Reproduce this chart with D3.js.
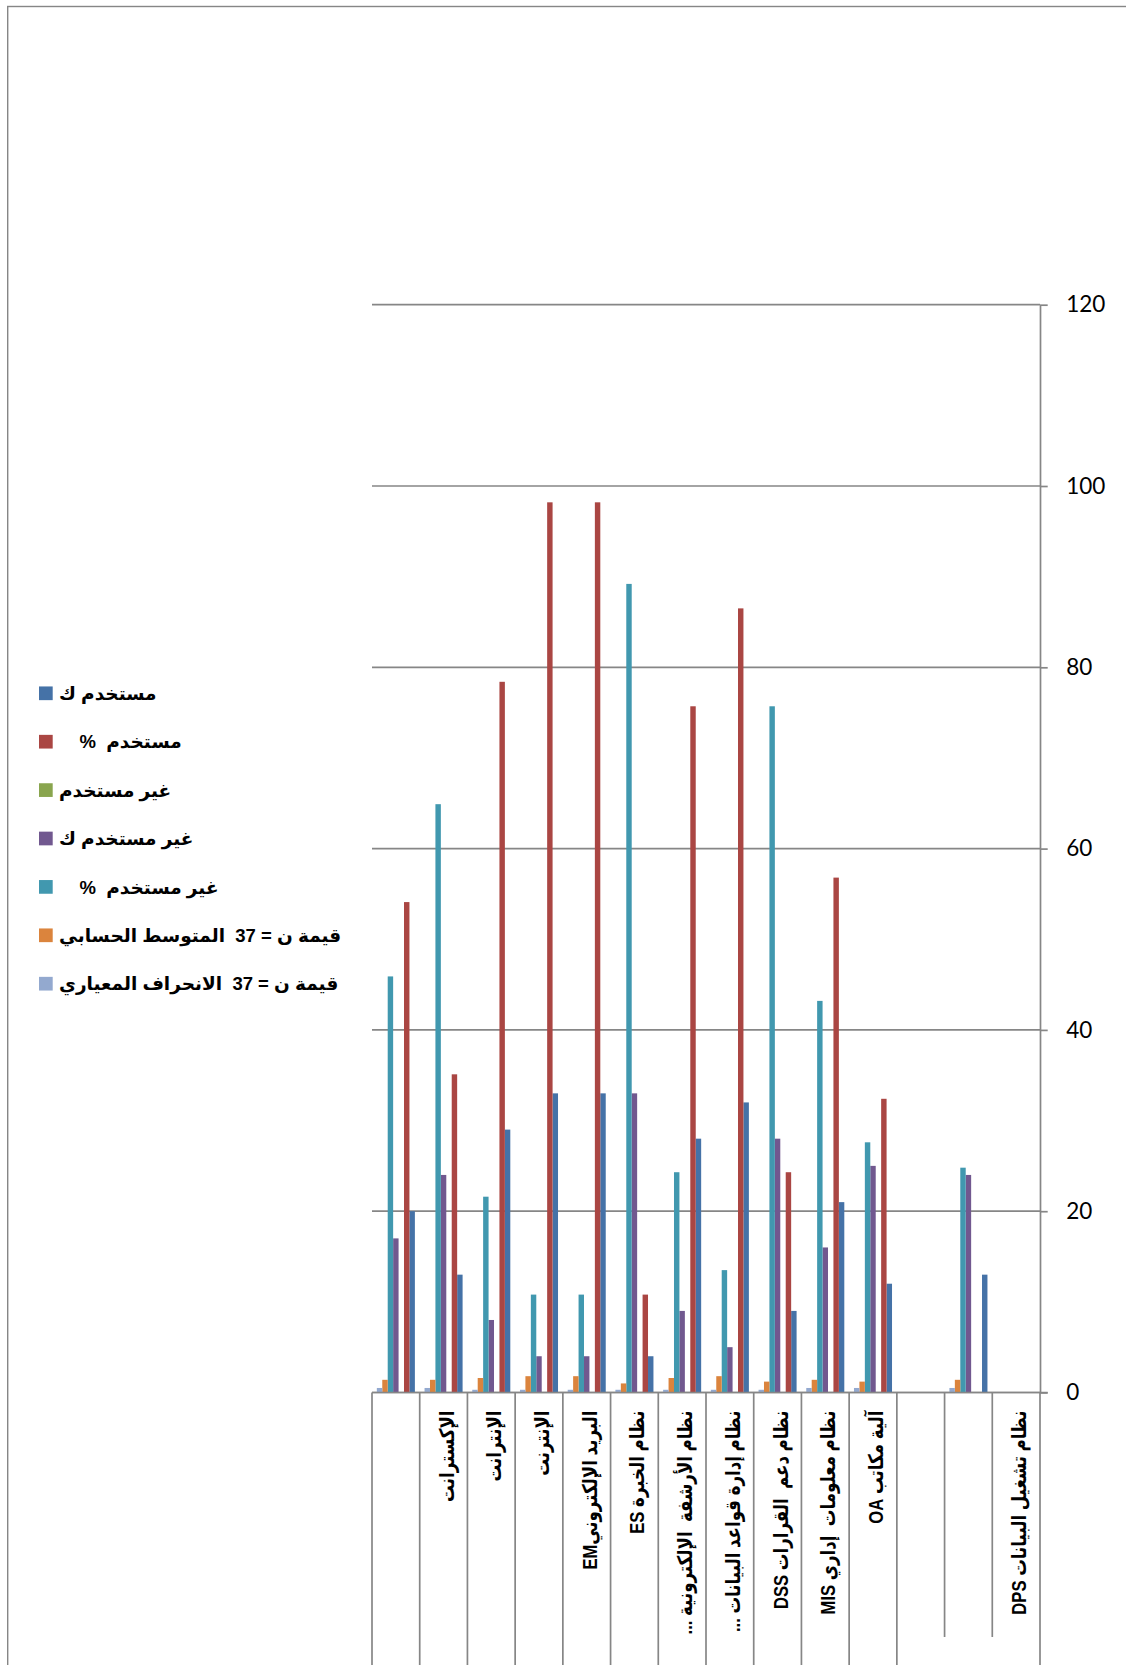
<!DOCTYPE html>
<html>
<head>
<meta charset="utf-8">
<script src="https://cdn.jsdelivr.net/npm/d3@7"></script>
<style>
  html, body { margin: 0; padding: 0; background: #ffffff; }
  svg { display: block; }
  text { white-space: pre; }
</style>
</head>
<body>
<svg id="chart" width="1126" height="1665"></svg>
<script>
// Categories in sheet order (the first one is drawn at the right, axis runs right-to-left)
const categories = [
  "نظام تشغيل البيانات DPS",
  "",
  "",
  "آلية مكاتب OA",
  "نظام معلومات  إداري MIS",
  "نظام دعم  القرارات DSS",
  "نظام إدارة قواعد البيانات ...",
  "نظام الأرشفة  الإلكترونية ...",
  "نظام الخبرة ES",
  "البريد الإلكترونيEM",
  "الإنترنت",
  "الإنترانت",
  "الإكسترانت",
  ""
];
// Outer (second) level of the category axis: categories sharing a key share one outer cell
const outerGroups = [0, 0, 0, 1, 2, 3, 4, 5, 6, 7, 8, 9, 10, 11];

const seriesNames = [
  "مستخدم ك",
  "مستخدم  %    ",
  "غير مستخدم",
  "غير مستخدم ك",
  "غير مستخدم  %    ",
  "قيمة ن = 37  المتوسط الحسابي",
  "قيمة ن = 37  الانحراف المعياري"
];
const seriesColors = ["#4572A7", "#AA4643", "#89A54E", "#71588F", "#4198AF", "#DB843D", "#93A9CF"];

const usedCount     = [null, 13,   null, 12,   21,   9,    32,   28,   4,    33,   33,   29,   13,   20];
const usedPct       = [null, 0,    null, 32.4, 56.8, 24.3, 86.5, 75.7, 10.8, 98.2, 98.2, 78.4, 35.1, 54.1];
const notUsed       = [null, null, null, null, null, null, null, null, null, null, null, null, null, null];
const notUsedCount  = [null, 24,   null, 25,   16,   28,   5,    9,    33,   4,    4,    8,    24,   17];
const notUsedPct    = [null, 24.8, null, 27.6, 43.2, 75.7, 13.5, 24.3, 89.2, 10.8, 10.8, 21.6, 64.9, 45.9];
const meanValues    = [null, 1.4,  null, 1.2,  1.4,  1.2,  1.8,  1.6,  1.0,  1.8,  1.8,  1.6,  1.4,  1.4];
const stdDevValues  = [null, 0.5,  null, 0.5,  0.5,  0.3,  0.3,  0.3,  0.3,  0.3,  0.3,  0.3,  0.5,  0.5];

const valueTicks = [0, 20, 40, 60, 80, 100, 120];

const seriesValues = [usedCount, usedPct, notUsed, notUsedCount, notUsedPct, meanValues, stdDevValues];
const series = seriesNames.map((name, i) => ({ key: i, name, color: seriesColors[i], values: seriesValues[i] }));

// ---- layout ----
const GRID = "#868686";
const plot = { left: 372, right: 1040, top: 304.7, bottom: 1392.5 };
const labelAreaBottom = 1637;
const svg = d3.select("#chart");

// Chart-area frame
svg.append("rect")
  .attr("x", 7.7).attr("y", 6.5)
  .attr("width", 1300).attr("height", 1900)
  .attr("fill", "none").attr("stroke", GRID).attr("stroke-width", 1.4);

// Scales
const x0 = d3.scaleBand()
  .domain(d3.range(categories.length))
  .range([plot.right, plot.left])
  .paddingInner(0).paddingOuter(0);

const x1 = d3.scaleBand()
  .domain(series.map(s => s.key))
  .range([x0.bandwidth(), 0])
  .paddingInner(0).paddingOuter(0.89);

const y = d3.scaleLinear()
  .domain([0, 120])
  .range([plot.bottom, plot.top]);

// Horizontal gridlines
svg.append("g")
  .selectAll("line")
  .data(valueTicks)
  .join("line")
  .attr("x1", plot.left).attr("x2", plot.right)
  .attr("y1", d => y(d)).attr("y2", d => y(d))
  .attr("stroke", GRID).attr("stroke-width", 1.7);

// Bars
const groups = svg.append("g")
  .selectAll("g")
  .data(d3.range(categories.length))
  .join("g")
  .attr("transform", i => `translate(${x0(i)},0)`);

groups.selectAll("rect")
  .data(i => series.map(s => ({ key: s.key, color: s.color, value: s.values[i] })))
  .join("rect")
  .filter(d => d.value != null && d.value > 0)
  .attr("x", d => x1(d.key))
  .attr("width", x1.bandwidth())
  .attr("y", d => y(d.value))
  .attr("height", d => y(0) - y(d.value))
  .attr("fill", d => d.color);

// Category axis: base line and dividers between category cells
svg.append("line")
  .attr("x1", plot.left).attr("x2", plot.right + 7.7)
  .attr("y1", y(0)).attr("y2", y(0))
  .attr("stroke", GRID).attr("stroke-width", 1.7);

const n = categories.length;
const boundaries = d3.range(n + 1).map(k => {
  // k = 0 is the right end, k = n is the left end
  const xPos = k === n ? x0(n - 1) : x0(k) + x0.bandwidth();
  const full = k === 0 || k === n || outerGroups[k - 1] !== outerGroups[k];
  return { xPos, full };
});

svg.append("g")
  .selectAll("line")
  .data(boundaries)
  .join("line")
  .attr("x1", d => d.xPos).attr("x2", d => d.xPos)
  .attr("y1", y(0))
  .attr("y2", d => d.full ? 1700 : labelAreaBottom)
  .attr("stroke", GRID).attr("stroke-width", 1.7);

// Category labels, rotated, reading from top to bottom (slightly narrow, tall glyphs)
svg.append("g")
  .selectAll("text")
  .data(d3.range(n).filter(i => categories[i]))
  .join("text")
  .attr("transform", i => `translate(${x0(i) + x0.bandwidth() / 2 + 10},${y(0) + 18}) rotate(-90) scale(0.9,1.1)`)
  .attr("direction", "rtl")
  .attr("text-anchor", "start")
  .attr("xml:space", "preserve")
  .style("font-family", "'Liberation Sans', Arial, 'DejaVu Sans', sans-serif")
  .style("font-weight", "bold")
  .style("font-size", "18.5px")
  .attr("fill", "#000")
  .text(i => categories[i]);

// Value axis on the right
const yAxis = d3.axisRight(y)
  .tickValues(valueTicks)
  .tickSize(7.7)
  .tickSizeOuter(0)
  .tickPadding(18.5);

const axisG = svg.append("g")
  .attr("transform", `translate(${plot.right},0)`)
  .call(yAxis);
axisG.select(".domain").attr("stroke", GRID).attr("stroke-width", 1.7);
axisG.selectAll(".tick line").attr("stroke", GRID).attr("stroke-width", 1.7);
axisG.selectAll(".tick text")
  .style("font-family", "Lato, 'Open Sans', sans-serif")
  .style("font-size", "22.5px")
  .attr("fill", "#000");

// Legend
const legendTop = 693.3, legendStep = 48.4;
const legend = svg.append("g")
  .selectAll("g")
  .data(series)
  .join("g")
  .attr("transform", (d, i) => `translate(0,${legendTop + i * legendStep})`);

legend.append("rect")
  .attr("x", 39).attr("y", -6.85)
  .attr("width", 13.7).attr("height", 13.7)
  .attr("fill", d => d.color);

legend.append("text")
  .attr("x", 59).attr("y", 6.6)
  .attr("direction", "rtl")
  .attr("text-anchor", "end")
  .attr("xml:space", "preserve")
  .style("font-family", "'Liberation Sans', Arial, 'DejaVu Sans', sans-serif")
  .style("font-weight", "bold")
  .style("font-size", "18.5px")
  .attr("fill", "#000")
  .text(d => d.name);
</script>
</body>
</html>
